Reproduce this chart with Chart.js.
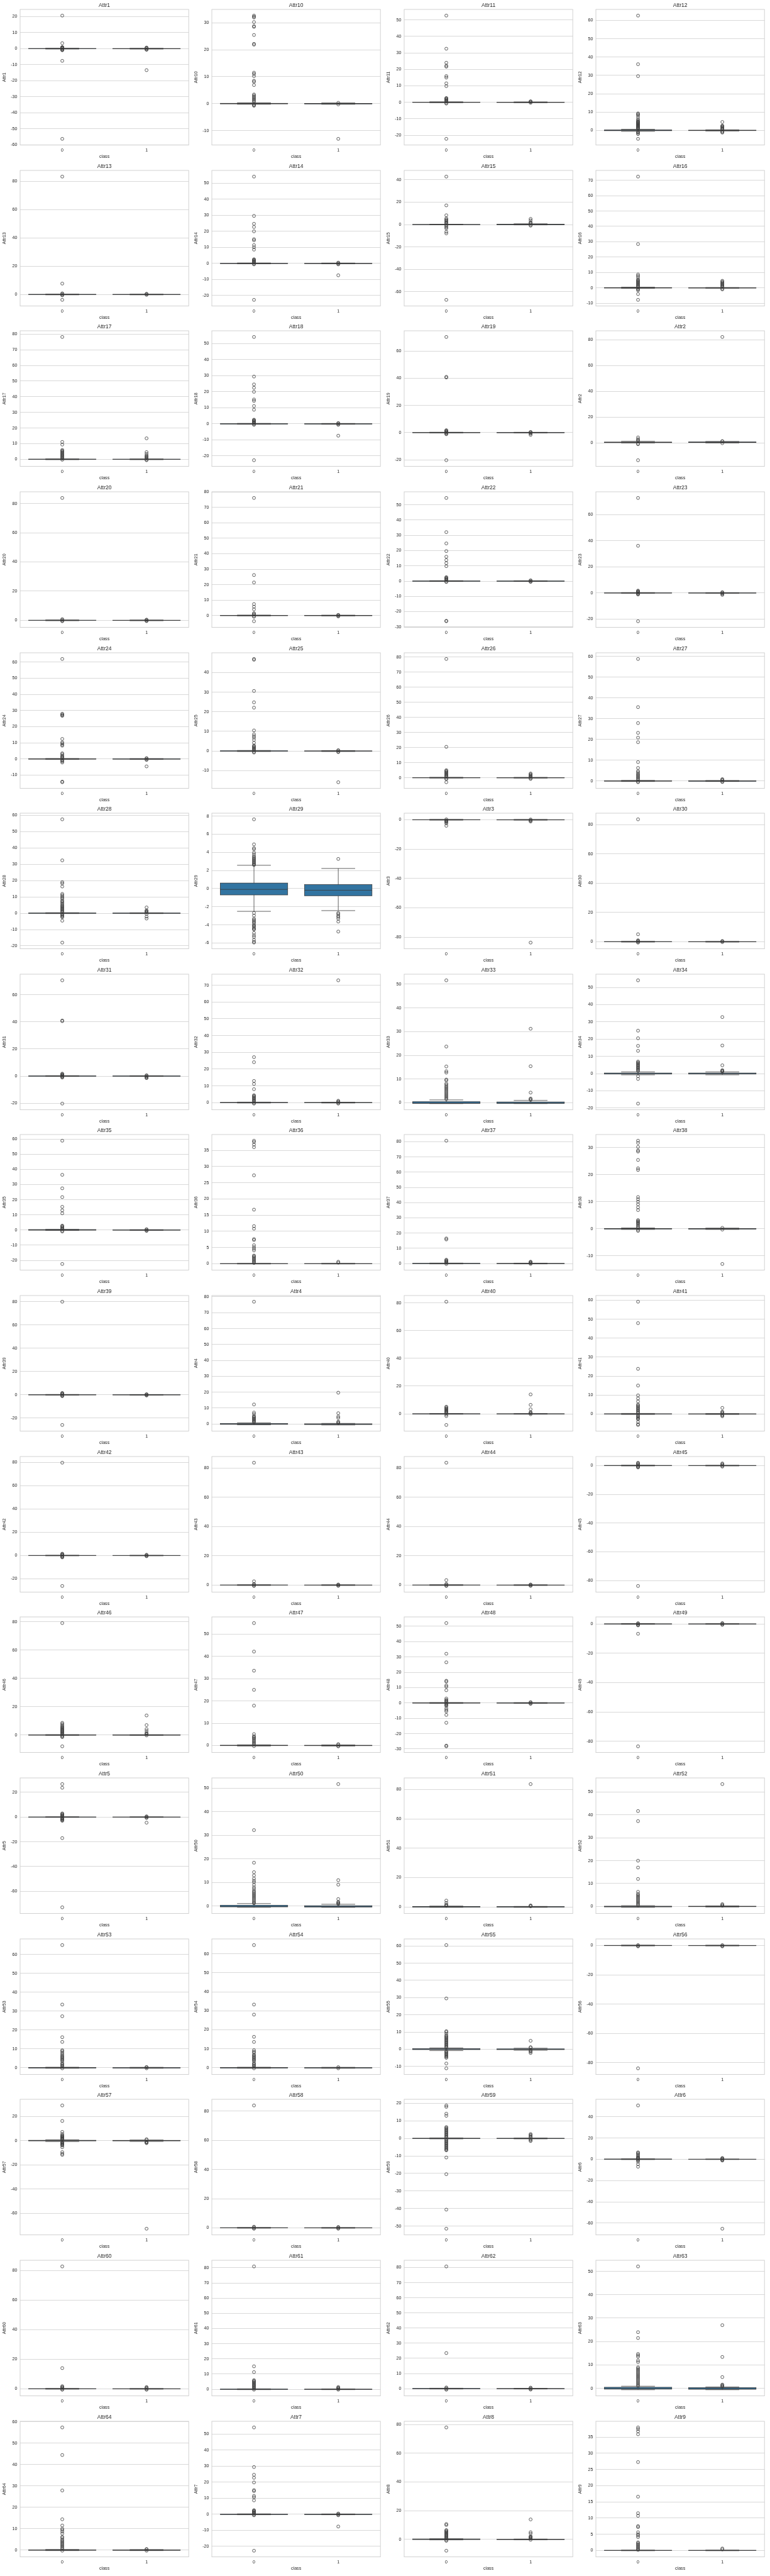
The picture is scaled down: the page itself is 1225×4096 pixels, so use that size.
<!DOCTYPE html>
<html>
<head>
<meta charset="utf-8">
<title>Boxplots per class</title>
<script src="https://cdn.jsdelivr.net/npm/chart.js@4.4.1/dist/chart.umd.min.js"></script>
<style>
  html, body { margin: 0; padding: 0; background: #fff; }
  #grid { position: relative; width: 1225px; height: 4096px; }
  #grid canvas { position: absolute; }
</style>
</head>
<body>
<div id="grid"></div>
<script>
// ---- data ----
const attrNames = ['Attr1','Attr10','Attr11','Attr12','Attr13','Attr14','Attr15','Attr16',
  'Attr17','Attr18','Attr19','Attr2','Attr20','Attr21','Attr22','Attr23',
  'Attr24','Attr25','Attr26','Attr27','Attr28','Attr29','Attr3','Attr30',
  'Attr31','Attr32','Attr33','Attr34','Attr35','Attr36','Attr37','Attr38',
  'Attr39','Attr4','Attr40','Attr41','Attr42','Attr43','Attr44','Attr45',
  'Attr46','Attr47','Attr48','Attr49','Attr5','Attr50','Attr51','Attr52',
  'Attr53','Attr54','Attr55','Attr56','Attr57','Attr58','Attr59','Attr6',
  'Attr60','Attr61','Attr62','Attr63','Attr64','Attr7','Attr8','Attr9'];

const classLabels = ['0', '1'];

const yTicks = [
  [-60,-50,-40,-30,-20,-10,0,10,20], [-10,0,10,20,30], [-20,-10,0,10,20,30,40,50], [0,10,20,30,40,50,60],
  [0,20,40,60,80], [-20,-10,0,10,20,30,40,50], [-60,-40,-20,0,20,40], [-10,0,10,20,30,40,50,60,70],
  [0,10,20,30,40,50,60,70,80], [-20,-10,0,10,20,30,40,50], [-20,0,20,40,60], [0,20,40,60,80],
  [0,20,40,60,80], [0,10,20,30,40,50,60,70,80], [-30,-20,-10,0,10,20,30,40,50], [-20,0,20,40,60],
  [-10,0,10,20,30,40,50,60], [-10,0,10,20,30,40], [0,10,20,30,40,50,60,70,80], [0,10,20,30,40,50,60],
  [-20,-10,0,10,20,30,40,50,60], [-6,-4,-2,0,2,4,6,8], [-80,-60,-40,-20,0], [0,20,40,60,80],
  [-20,0,20,40,60], [0,10,20,30,40,50,60,70], [0,10,20,30,40,50], [-20,-10,0,10,20,30,40,50],
  [-20,-10,0,10,20,30,40,50,60], [0,5,10,15,20,25,30,35], [0,10,20,30,40,50,60,70,80], [-10,0,10,20,30],
  [-20,0,20,40,60,80], [0,10,20,30,40,50,60,70,80], [0,20,40,60,80], [0,10,20,30,40,50,60],
  [-20,0,20,40,60,80], [0,20,40,60,80], [0,20,40,60,80], [-80,-60,-40,-20,0],
  [0,20,40,60,80], [0,10,20,30,40,50], [-30,-20,-10,0,10,20,30,40,50], [-80,-60,-40,-20,0],
  [-60,-40,-20,0,20], [0,10,20,30,40,50], [0,20,40,60,80], [0,10,20,30,40,50],
  [0,10,20,30,40,50,60], [0,10,20,30,40,50,60], [-10,0,10,20,30,40,50,60], [-80,-60,-40,-20,0],
  [-60,-40,-20,0,20], [0,20,40,60,80], [-50,-40,-30,-20,-10,0,10,20], [-60,-40,-20,0,20,40],
  [0,20,40,60,80], [0,10,20,30,40,50,60,70,80], [0,10,20,30,40,50,60,70,80], [0,10,20,30,40,50],
  [0,10,20,30,40,50,60], [-20,-10,0,10,20,30,40,50], [0,20,40,60,80], [0,5,10,15,20,25,30,35]
];

// box stats per class: [lower whisker, q1, median, q3, upper whisker]
const FLAT0 = [-0.25, -0.08, 0, 0.1, 0.3];
const FLAT1 = [-0.25, -0.1, -0.02, 0.08, 0.25];

const box0 = [
  FLAT0, FLAT0, FLAT0, [-0.5,-0.15,0.02,0.25,0.65],
  FLAT0, FLAT0, FLAT0, [-0.3,-0.1,0.05,0.2,0.45],
  FLAT0, FLAT0, FLAT0, [0,0.27,0.47,0.69,1.3],
  FLAT0, FLAT0, FLAT0, FLAT0,
  FLAT0, FLAT0, FLAT0, FLAT0,
  FLAT0, [-2.51,-0.70,-0.09,0.61,2.57], FLAT0, FLAT0,
  FLAT0, FLAT0, [-0.35,-0.25,-0.12,0.45,1.2], [-0.7,-0.25,-0.05,0.35,1.0],
  [-0.3,-0.1,0.05,0.3,0.45], [-0.1,-0.05,-0.02,0.03,0.1], FLAT0, FLAT0,
  FLAT0, [-0.5,-0.2,-0.05,0.3,0.8], FLAT0, FLAT0,
  FLAT0, FLAT0, FLAT0, FLAT0,
  FLAT0, FLAT0, FLAT0, FLAT0,
  FLAT0, [-0.5,-0.3,-0.15,0.35,1.1], [-0.3,-0.1,0.05,0.3,0.6], [-0.4,-0.2,-0.05,0.1,0.35],
  FLAT0, FLAT0, [-0.8,-0.2,0,0.35,0.8], FLAT0,
  [-0.7,-0.1,0.1,0.35,0.8], FLAT0, FLAT0, [-0.3,-0.1,0.05,0.25,0.45],
  FLAT0, FLAT0, FLAT0, [-0.6,-0.35,-0.1,0.45,0.9],
  FLAT0, FLAT0, [-0.35,-0.1,0.05,0.3,0.45], [-0.1,-0.05,-0.02,0.03,0.1]
];

const box1 = [
  FLAT1, FLAT1, FLAT1, [-0.3,-0.1,0,0.12,0.35],
  FLAT1, FLAT1, [-0.3,-0.1,0.05,0.3,0.7], FLAT1,
  FLAT1, FLAT1, FLAT1, [0,0.35,0.55,0.75,1.2],
  FLAT1, FLAT1, FLAT1, FLAT1,
  FLAT1, FLAT1, FLAT1, FLAT1,
  FLAT1, [-2.43,-0.79,-0.18,0.44,2.22], FLAT1, FLAT1,
  FLAT1, FLAT1, [-0.35,-0.25,-0.1,0.35,1.0], [-0.7,-0.25,-0.05,0.35,1.0],
  FLAT1, [-0.1,-0.05,-0.02,0.03,0.1], FLAT1, FLAT1,
  FLAT1, [-0.6,-0.3,-0.15,0.15,0.4], FLAT1, FLAT1,
  FLAT1, FLAT1, FLAT1, FLAT1,
  FLAT1, FLAT1, FLAT1, FLAT1,
  FLAT1, [-0.5,-0.35,-0.2,0.2,0.8], [-0.3,-0.1,0.05,0.2,0.35], FLAT1,
  FLAT1, FLAT1, [-0.6,-0.2,-0.05,0.2,0.6], FLAT1,
  [-0.6,-0.1,0.1,0.3,0.6], FLAT1, FLAT1, FLAT1,
  FLAT1, FLAT1, FLAT1, [-0.6,-0.4,-0.2,0.3,0.6],
  FLAT1, FLAT1, FLAT1, [-0.1,-0.05,-0.02,0.03,0.1]
];

// fliers, class 0
const outliers0 = [
  [20.6,3.4,1.0,0.8,0.6,0.4,0.3,-0.3,-0.5,-0.8,-1.0,-7.6,-56.2],
  [32.7,32.3,32.0,30.3,28.8,28.5,25.5,22.2,21.9,11.5,11.0,10.2,8.5,8.1,6.9,3.4,3.0,2.6,2.2,1.8,1.4,1.0,0.6,-0.3,-0.6,-0.8],
  [52.6,32.5,24.0,22.2,21.6,15.9,15.0,11.5,9.8,2.6,2.3,2.0,1.6,1.2,0.8,0.4,-0.4,-0.8,-22.2],
  [62.6,36.1,29.6,9.3,8.8,8.3,7.3,6.2,5.5,5.0,4.7,4.4,4.1,3.8,3.5,3.2,2.9,2.6,2.3,2.0,1.7,1.4,1.1,0.8,-0.7,-1.0,-1.5,-2.0,-4.6],
  [83.3,7.7,0.8,0.4,-0.3,-0.6,-3.8],
  [54.1,29.6,24.7,22.7,20.0,15.1,14.4,11.4,10.1,8.6,2.6,2.3,2.0,1.6,1.2,0.8,0.4,-0.3,-0.6,-22.7],
  [42.8,17.1,8.3,5.5,4.5,3.8,3.0,2.2,1.5,0.8,-0.5,-1.5,-2.5,-3.5,-6.4,-7.9,-67.2],
  [72.4,28.5,8.7,7.8,6.8,5.5,5.0,4.5,4.0,3.5,3.0,2.5,2.0,1.5,1.0,0.5,-0.5,-1.0,-1.6,-4.0,-7.8],
  [78.2,11.1,9.4,6.0,5.5,5.0,4.5,4.0,3.5,3.0,2.5,2.0,1.5,1.0,0.5,-0.3],
  [54.2,29.5,24.6,22.5,20.0,15.2,14.3,11.1,8.8,2.6,2.3,2.0,1.6,1.2,0.8,0.4,-0.3,-0.6,-22.7],
  [70.3,41.0,40.5,1.8,1.4,1.0,0.6,0.2,-0.4,-0.8,-1.2,-20.3],
  [4.3,3.0,2.0,1.6,-0.5,-1.0,-13.4],
  [83.8,0.8,0.4,-0.3,-0.6],
  [76.1,26.2,21.4,7.4,5.7,4.0,1.5,1.0,0.5,-0.5,-0.8,-3.7],
  [54.5,32.1,24.7,19.7,16.0,13.8,11.8,9.8,2.6,2.2,1.8,1.4,1.0,0.6,-0.3,-0.6,-26.0,-26.3],
  [72.9,36.2,1.8,1.4,1.0,0.6,0.2,-0.4,-0.8,-1.2,-21.7],
  [61.9,28.0,27.5,27.0,26.7,12.4,10.3,9.6,8.8,8.2,3.5,2.9,2.0,1.5,1.0,0.5,-0.5,-1.0,-1.5,-2.2,-14.0,-14.4],
  [46.9,46.5,30.6,24.8,22.1,10.5,8.5,7.6,6.8,5.7,4.2,2.8,2.4,2.0,1.6,1.2,0.8,0.4,-0.4,-0.8],
  [78.8,20.5,5.0,4.5,4.0,3.5,3.0,2.5,2.0,1.5,1.0,0.5,-0.5,-1.0,-3.0],
  [58.8,35.6,27.9,23.2,20.9,18.7,9.1,6.3,4.8,4.2,3.5,3.0,2.5,2.0,1.5,1.0,0.5,-0.3,-0.6],
  [57.4,32.3,19.0,18.2,16.3,11.8,11.0,10.2,9.5,8.8,7.7,7.2,6.5,5.8,5.0,4.5,4.0,3.5,3.0,2.5,2.0,1.5,1.0,0.5,-0.5,-1.0,-1.5,-2.0,-2.5,-4.6,-18.0],
  [7.64,4.88,4.47,4.34,3.97,3.78,3.59,3.46,3.35,3.25,3.15,3.05,2.95,2.85,2.75,2.65,2.6,-2.69,-2.98,-3.32,-3.45,-3.57,-3.7,-3.83,-4.02,-4.1,-4.21,-4.35,-4.46,-4.52,-4.9,-5.15,-5.34,-5.65,-5.86,-5.96],
  [0.3,-0.4,-0.8,-1.2,-1.7,-2.5,-4.1],
  [83.6,5.1,1.0,0.6,0.3,-0.3,-0.6],
  [70.6,41.0,40.5,1.8,1.4,1.0,0.6,0.2,-0.3,-0.7,-1.1,-20.3],
  [27.1,24.1,12.9,11.1,8.0,4.4,4.0,3.5,3.0,2.5,2.0,1.5,1.0,0.5,-0.3,-0.6],
  [51.6,23.7,15.3,13.3,12.7,9.8,9.4,8.1,7.6,7.0,6.5,6.0,5.5,5.0,4.5,4.0,3.5,3.0,2.5,2.0,1.5],
  [54.1,24.9,20.5,16.1,13.2,7.0,6.5,6.0,5.5,5.0,4.5,4.0,3.5,3.0,2.5,2.0,1.5,-1.5,-3.1,-17.4],
  [58.9,36.4,27.5,21.7,15.3,13.0,11.0,2.9,2.5,2.0,1.5,1.0,0.5,-0.5,-1.0,-22.4],
  [38.0,37.6,36.8,36.0,27.3,16.7,11.6,10.8,7.6,7.3,5.7,5.1,4.6,4.1,2.5,2.3,2.0,1.7,1.4,1.1,0.8,0.5,0.2],
  [80.7,16.5,15.8,2.5,2.1,1.7,1.3,0.9,0.5,-0.3],
  [32.5,31.7,30.2,28.9,28.5,25.4,22.3,21.7,11.7,10.9,10.0,9.0,7.9,6.9,3.2,2.9,2.6,2.3,2.0,1.6,1.2,0.8,0.4,-0.4,-0.8],
  [79.9,1.6,1.2,0.8,0.4,-0.4,-0.8,-1.2,-25.9],
  [76.9,12.3,7.2,6.2,5.0,4.5,4.0,3.5,3.0,2.5,2.0,1.5,1.0],
  [80.8,5.2,4.6,4.0,3.5,3.0,2.5,2.0,1.5,1.0,0.5,-0.5,-1.6,-8.0],
  [59.2,47.9,23.8,15.0,9.8,8.2,6.6,5.0,4.5,4.0,3.5,3.0,2.5,2.0,1.5,1.0,0.5,-0.5,-1.0,-1.5,-2.0,-2.5,-2.8,-4.2,-5.4,-5.8],
  [79.6,1.6,1.2,0.8,0.4,-0.4,-0.8,-1.2,-1.6,-26.1],
  [83.7,2.6,0.8,0.4,-0.3,-0.6],
  [83.7,3.4,0.8,0.4,-0.3,-0.6],
  [2.0,1.5,1.0,0.5,-0.3,-0.6,-1.0,-1.3,-83.8],
  [79.0,8.6,7.8,6.9,6.1,5.5,5.0,4.5,4.0,3.5,3.0,2.5,2.0,1.5,1.0,0.5,-0.5,-1.0,-1.5,-8.0],
  [55.0,42.2,33.6,25.0,17.9,5.1,4.2,3.8,3.4,3.0,2.5,2.0,1.5,1.0,0.5,-0.3],
  [52.1,32.1,26.5,14.5,13.9,11.4,10.6,8.3,2.9,2.0,1.5,1.0,0.5,-0.5,-1.0,-1.5,-2.0,-3.5,-4.6,-5.5,-7.8,-12.9,-27.8,-28.3],
  [0.5,0.3,-0.3,-0.7,-1.0,-6.7,-83.5],
  [26.7,23.7,3.0,2.5,2.0,1.5,1.0,0.5,-0.5,-1.0,-1.5,-2.0,-2.5,-3.0,-17.0,-73.0],
  [32.2,18.4,14.4,13.0,11.7,10.8,10.1,9.0,8.0,7.3,6.5,6.0,5.5,5.0,4.5,4.0,3.5,3.0,2.5,2.0,1.5,1.2],
  [4.3,2.7,1.5,1.1,0.7],
  [41.7,37.3,20.0,17.0,12.0,6.4,5.5,5.0,4.5,4.0,3.5,3.0,2.5,2.0,1.5,1.0,0.5],
  [65.0,33.5,27.3,16.2,13.7,9.3,8.8,8.0,7.2,6.5,6.0,5.5,5.0,4.5,4.0,3.5,2.5,2.0,1.5,1.0,0.5,-0.3],
  [64.6,33.3,28.0,16.3,13.6,9.3,8.5,8.0,7.0,6.5,6.0,5.5,5.0,4.5,4.0,3.5,2.5,2.0,1.5,1.0,0.5,-0.3],
  [60.5,29.5,10.5,10.0,9.0,8.0,7.5,7.0,6.5,6.0,5.5,5.0,4.5,4.0,3.5,3.0,2.5,2.0,1.5,1.0,-1.0,-1.5,-2.0,-2.5,-3.0,-3.5,-4.0,-4.5,-5.0,-8.3,-11.1],
  [0.3,-0.3,-0.6,-83.8],
  [29.1,16.3,7.3,5.6,4.5,4.0,3.5,3.0,2.5,2.0,1.5,1.0,-1.0,-1.5,-2.0,-2.5,-3.0,-3.5,-4.0,-5.4,-9.4,-10.8,-11.7],
  [83.9,0.8,0.4,-0.3,-0.6],
  [18.8,18.0,14.1,12.9,6.5,6.0,5.5,5.0,4.5,4.0,3.5,3.0,2.5,2.0,1.5,1.0,0.5,-0.5,-1.0,-1.5,-2.0,-2.5,-3.0,-3.5,-4.0,-4.5,-5.0,-5.5,-6.0,-6.5,-6.8,-10.9,-20.4,-40.6,-51.5],
  [50.6,6.5,6.0,5.0,4.0,3.0,2.0,1.5,1.0,0.5,-0.5,-1.0,-2.3,-4.6,-7.0],
  [82.7,14.0,1.8,1.3,0.9,0.5,-0.3,-0.6],
  [80.9,15.1,11.3,6.0,5.5,5.0,4.5,4.0,3.5,3.0,2.5,2.0,1.5,1.0,0.5,-0.3],
  [80.7,23.5,0.8,0.4,-0.3,-0.7],
  [52.1,24.0,21.5,14.7,14.1,13.5,11.9,11.2,9.0,8.5,8.0,7.5,7.0,6.5,6.0,5.5,5.0,4.5,4.0,3.5,3.0,2.5,2.0,1.5,1.0],
  [57.4,44.5,27.9,14.4,11.5,10.0,9.4,8.6,7.7,6.2,5.8,5.0,4.5,4.0,3.5,3.0,2.5,2.0,1.5,1.0,0.5,-0.3],
  [54.2,29.5,24.7,22.8,19.9,15.1,14.5,11.5,10.6,8.7,2.6,2.3,2.0,1.6,1.2,0.8,0.4,-0.3,-0.6,-22.7],
  [78.0,10.7,10.0,6.5,6.0,5.5,5.0,4.5,4.0,3.5,3.0,2.5,2.0,1.5,1.0,0.5,-0.5,-1.0,-7.9],
  [38.0,37.5,36.8,35.9,27.3,16.6,11.5,10.7,7.5,7.2,5.6,5.0,4.6,4.1,2.5,2.2,1.9,1.6,1.3,1.0,0.7,0.4,0.15]
];

// fliers, class 1
const outliers1 = [
  [0.7,0.5,0.3,-0.3,-0.5,-0.7,-13.4],
  [0.3,-0.3,-13.1],
  [0.6,0.4,0.2,-0.3],
  [4.6,2.6,2.3,2.0,1.6,1.2,0.8,0.5,-0.5,-0.8,-1.2],
  [0.5,0.3,-0.3],
  [0.5,0.3,-0.3,-0.6,-7.4],
  [5.1,3.7,2.0,1.4,0.8,-0.4,-1.0],
  [4.6,4.0,3.5,3.0,2.5,2.0,1.5,1.0,0.5,-0.5,-1.0],
  [13.4,4.6,3.5,2.5,2.0,1.5,1.0,0.5,-0.3,-0.6],
  [0.5,0.3,-0.3,-0.6,-7.4],
  [0.5,0.3,-0.3,-0.8,-1.7],
  [82.2,1.4,1.3,-0.2],
  [0.5,0.3,-0.3,-0.5],
  [0.4,0.3,-0.3,-0.6],
  [0.5,0.3,-0.3,-0.5],
  [0.6,0.3,-0.3,-0.8,-1.5],
  [0.5,0.3,-0.3,-0.6,-4.6],
  [0.4,0.3,-0.3,-0.6,-15.9],
  [2.8,2.3,1.8,1.3,0.8,0.4,-0.4,-0.8],
  [0.9,0.6,0.3,-0.3,-0.5],
  [3.5,1.7,1.3,0.9,0.5,-0.5,-2.1,-3.3],
  [3.27,-2.69,-2.81,-3.0,-3.13,-3.32,-3.64,-4.74],
  [0.2,-0.3,-0.7,-1.2,-83.7],
  [0.5,0.3,-0.3],
  [0.6,0.3,-0.3,-0.7,-1.3,-1.5],
  [72.9,1.1,0.7,0.3,-0.3,-0.6],
  [31.2,15.4,4.3,1.8,1.5,1.2],
  [32.8,16.3,4.8,2.0,1.7,1.4,1.1],
  [0.5,0.3,-0.3,-0.6],
  [0.6,0.3],
  [1.2,0.9,0.5,0.3,-0.3],
  [0.35,-0.3,-13.0],
  [0.5,0.3,-0.3,-0.6],
  [19.7,6.8,4.7,3.8,1.5,1.0,0.5],
  [14.0,6.5,3.3,1.2,0.8,0.4,-0.3],
  [3.2,1.2,0.8,0.4,-0.4,-0.8,-1.2],
  [0.7,0.3,-0.3,-0.6],
  [0.4,0.3,-0.3,-0.5],
  [0.4,0.3,-0.3,-0.5],
  [1.5,1.0,0.5,-0.3,-0.7],
  [13.8,7.0,4.2,2.9,1.5,1.0,0.5,-0.3],
  [0.6,0.3,-0.3,-0.4],
  [0.5,0.3,-0.3,-0.6],
  [0.6,0.3,-0.3,-0.6],
  [0.6,0.3,-0.3,-0.7,-4.5],
  [51.7,11.0,9.1,3.0,1.8,1.5,1.2,0.9],
  [83.7,1.0,0.7,0.4],
  [53.5,1.0,0.6,0.3],
  [0.4,0.3,-0.3],
  [0.35,-0.3],
  [4.9,1.2,0.9,-0.7,-1.0,-1.5,-2.2],
  [0.3,-0.3,-0.6],
  [1.2,0.8,-0.8,-1.2,-1.6,-2.0,-72.6],
  [0.6,0.3,-0.3,-0.6],
  [2.5,2.0,1.5,1.0,0.5,-0.5,-1.0,-1.5],
  [1.2,0.8,0.4,-0.4,-0.8,-1.2,-65.3],
  [1.2,0.8,0.4,-0.3,-0.6],
  [1.5,1.0,0.6,0.3,-0.3],
  [0.7,0.3,-0.3,-0.6],
  [27.0,13.4,4.8,1.6,1.3,1.0,0.7],
  [0.5,0.3,-0.3],
  [0.5,0.3,-0.3,-0.6,-7.6],
  [13.9,5.0,4.0,2.2,1.8,1.4,1.0,0.6,-0.3],
  [0.6,0.3]
];

// ---- layout / style ----
const S = 0.512;
const COL_W = 596.3 * S;
const ROW_H = 499.3 * S;
const CANVAS_W = 305, CANVAS_H = 255;

const boxColor = '#3274a1';
const lineColor = '#3a3a3a';
const gridColor = '#cccccc';
const textColor = '#262626';

Chart.defaults.font.family = '"Liberation Sans", Arial, sans-serif';
Chart.defaults.color = textColor;

// whiskers, caps, box edge and median, drawn right after the box bars
const boxLines = {
  id: 'boxLines',
  afterDatasetDraw(chart, args, opts) {
    if (args.index !== 0) return;
    const ctx = chart.ctx;
    const y = chart.scales.y;
    ctx.save();
    ctx.strokeStyle = lineColor;
    ctx.lineWidth = 0.8;
    const seg = (x1, y1, x2, y2) => {
      ctx.beginPath(); ctx.moveTo(x1, y1); ctx.lineTo(x2, y2); ctx.stroke();
    };
    args.meta.data.forEach((bar, k) => {
      const [wlo, q1, med, q3, whi] = opts.stats[k];
      const cx = bar.x, half = bar.width / 2;
      const pq1 = y.getPixelForValue(q1), pq3 = y.getPixelForValue(q3);
      const plo = y.getPixelForValue(wlo), phi = y.getPixelForValue(whi);
      const pmed = y.getPixelForValue(med);
      seg(cx, pq1, cx, plo);
      seg(cx, pq3, cx, phi);
      seg(cx - half / 2, plo, cx + half / 2, plo);
      seg(cx - half / 2, phi, cx + half / 2, phi);
      ctx.strokeRect(cx - half, pq3, 2 * half, pq1 - pq3);
      seg(cx - half, pmed, cx + half, pmed);
    });
    ctx.restore();
  }
};

// four light spines round the plot area
const frame = {
  id: 'frame',
  beforeDatasetsDraw(chart) {
    const {ctx, chartArea: a} = chart;
    ctx.save();
    ctx.strokeStyle = gridColor;
    ctx.lineWidth = 0.9;
    ctx.strokeRect(a.left, a.top, a.right - a.left, a.bottom - a.top);
    ctx.restore();
  }
};

function yRange(i) {
  const vals = outliers0[i].concat(outliers1[i], box0[i], box1[i]);
  const lo = Math.min(...vals), hi = Math.max(...vals);
  const pad = (hi - lo) * 0.05;
  return [lo - pad, hi + pad];
}

function flierSet(values, label) {
  return {
    type: 'line',
    showLine: false,
    data: values.map(v => ({x: label, y: v})),
    pointStyle: 'circle',
    pointRadius: 2.4,
    pointBorderWidth: 0.8,
    pointBorderColor: lineColor,
    pointBackgroundColor: 'rgba(0,0,0,0)',
    order: label === '0' ? 1 : 0
  };
}

const holder = document.getElementById('grid');

attrNames.forEach((name, i) => {
  const col = i % 4, row = Math.floor(i / 4);
  const canvas = document.createElement('canvas');
  canvas.width = CANVAS_W;
  canvas.height = CANVAS_H;
  canvas.style.left = Math.round(col * COL_W) + 'px';
  canvas.style.top = Math.round(row * ROW_H) + 'px';
  holder.appendChild(canvas);

  const [yMin, yMax] = yRange(i);
  const b0 = box0[i], b1 = box1[i];

  new Chart(canvas.getContext('2d'), {
    type: 'bar',
    data: {
      labels: classLabels,
      datasets: [
        {
          type: 'bar',
          data: [[b0[1], b0[3]], [b1[1], b1[3]]],
          backgroundColor: boxColor,
          borderWidth: 0,
          categoryPercentage: 0.8,
          barPercentage: 1.0,
          order: 2
        },
        flierSet(outliers0[i], '0'),
        flierSet(outliers1[i], '1')
      ]
    },
    options: {
      responsive: false,
      animation: false,
      devicePixelRatio: 1,
      layout: { padding: { left: 0, right: 2.7, top: 0, bottom: 0 } },
      plugins: {
        legend: { display: false },
        tooltip: { enabled: false },
        title: {
          display: true,
          text: name,
          fullSize: false,
          color: textColor,
          font: { size: 8.5, weight: 'normal' },
          padding: { top: 3.1, bottom: 1.7 }
        },
        boxLines: { stats: [b0, b1] }
      },
      scales: {
        x: {
          type: 'category',
          offset: true,
          grid: { display: false, drawTicks: false },
          border: { display: false },
          ticks: { padding: 3.7, font: { size: 7.1 }, color: textColor, maxRotation: 0 },
          title: { display: true, text: 'class', font: { size: 7.1 }, color: textColor, padding: { top: 0, bottom: 1.9 } },
          afterFit(s) { s.height = 24.4; s.paddingLeft = 0; s.paddingRight = 0; }
        },
        y: {
          type: 'linear',
          min: yMin,
          max: yMax,
          grid: { color: gridColor, lineWidth: 0.75, drawTicks: false },
          border: { display: false },
          ticks: { padding: 4.6, font: { size: 7.1 }, color: textColor, autoSkip: false },
          title: { display: true, text: name, font: { size: 7.1 }, color: textColor, padding: { top: 2.5, bottom: 0 } },
          afterBuildTicks(s) { s.ticks = yTicks[i].map(v => ({ value: v })); },
          afterFit(s) { s.width = 32; s.paddingTop = 0; s.paddingBottom = 0; }
        }
      }
    },
    plugins: [frame, boxLines]
  });
});
</script>
</body>
</html>
